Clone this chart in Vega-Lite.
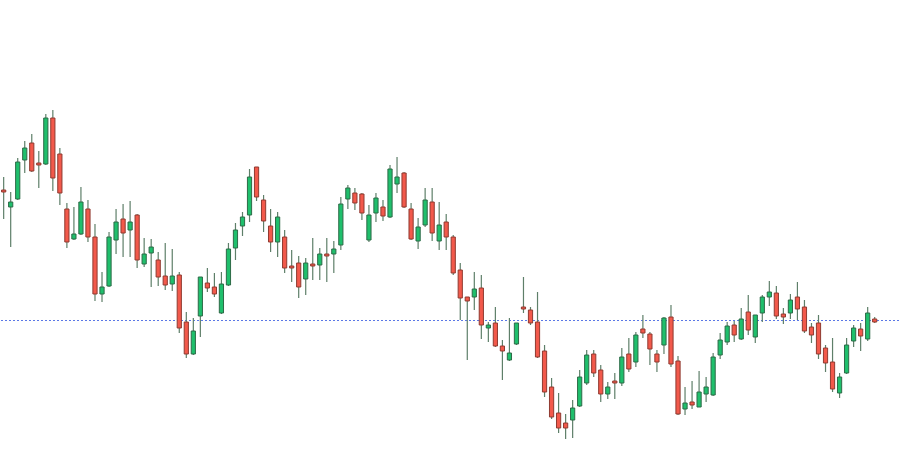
{
  "$schema": "https://vega.github.io/schema/vega-lite/v6.json",
  "width": 900,
  "height": 461,
  "autosize": {"type": "fit", "contains": "padding"},
  "padding": 0,
  "background": "#ffffff",
  "config": {"view": {"stroke": null}},
  "datasets": {"candles": [
    {"i":0,"o":310,"h":323,"l":281,"c":308,"d":"d"},
    {"i":1,"o":293,"h":308,"l":253,"c":298,"d":"u"},
    {"i":2,"o":301,"h":342,"l":300,"c":338,"d":"u"},
    {"i":3,"o":340,"h":359,"l":327,"c":352,"d":"u"},
    {"i":4,"o":357,"h":366,"l":328,"c":329,"d":"d"},
    {"i":5,"o":337,"h":349,"l":312,"c":335,"d":"d"},
    {"i":6,"o":336,"h":386,"l":335,"c":382,"d":"u"},
    {"i":7,"o":382,"h":390,"l":309,"c":322,"d":"d"},
    {"i":8,"o":346,"h":352,"l":295,"c":307,"d":"d"},
    {"i":9,"o":291,"h":297,"l":252,"c":258,"d":"d"},
    {"i":10,"o":261,"h":293,"l":260,"c":266,"d":"u"},
    {"i":11,"o":266,"h":313,"l":265,"c":298,"d":"u"},
    {"i":12,"o":291,"h":300,"l":258,"c":263,"d":"d"},
    {"i":13,"o":263,"h":276,"l":199,"c":206,"d":"d"},
    {"i":14,"o":206,"h":228,"l":198,"c":213,"d":"u"},
    {"i":15,"o":214,"h":268,"l":213,"c":263,"d":"u"},
    {"i":16,"o":260,"h":291,"l":246,"c":278,"d":"u"},
    {"i":17,"o":281,"h":296,"l":243,"c":267,"d":"d"},
    {"i":18,"o":270,"h":299,"l":243,"c":278,"d":"u"},
    {"i":19,"o":285,"h":286,"l":232,"c":240,"d":"d"},
    {"i":20,"o":236,"h":262,"l":233,"c":246,"d":"u"},
    {"i":21,"o":247,"h":261,"l":213,"c":253,"d":"u"},
    {"i":22,"o":240,"h":248,"l":214,"c":223,"d":"d"},
    {"i":23,"o":224,"h":257,"l":210,"c":215,"d":"d"},
    {"i":24,"o":216,"h":251,"l":209,"c":224,"d":"u"},
    {"i":25,"o":225,"h":228,"l":167,"c":172,"d":"d"},
    {"i":26,"o":178,"h":188,"l":142,"c":146,"d":"d"},
    {"i":27,"o":146,"h":182,"l":145,"c":169,"d":"u"},
    {"i":28,"o":184,"h":223,"l":163,"c":223,"d":"u"},
    {"i":29,"o":217,"h":232,"l":208,"c":212,"d":"d"},
    {"i":30,"o":213,"h":227,"l":203,"c":206,"d":"d"},
    {"i":31,"o":187,"h":228,"l":186,"c":216,"d":"u"},
    {"i":32,"o":215,"h":257,"l":214,"c":251,"d":"u"},
    {"i":33,"o":252,"h":277,"l":240,"c":270,"d":"u"},
    {"i":34,"o":274,"h":288,"l":264,"c":283,"d":"u"},
    {"i":35,"o":285,"h":331,"l":278,"c":323,"d":"u"},
    {"i":36,"o":333,"h":333,"l":299,"c":303,"d":"d"},
    {"i":37,"o":300,"h":305,"l":268,"c":279,"d":"d"},
    {"i":38,"o":274,"h":291,"l":248,"c":258,"d":"d"},
    {"i":39,"o":258,"h":288,"l":243,"c":283,"d":"u"},
    {"i":40,"o":263,"h":270,"l":227,"c":232,"d":"d"},
    {"i":41,"o":234,"h":250,"l":218,"c":232,"d":"d"},
    {"i":42,"o":237,"h":244,"l":202,"c":213,"d":"d"},
    {"i":43,"o":221,"h":242,"l":205,"c":237,"d":"u"},
    {"i":44,"o":236,"h":262,"l":220,"c":234,"d":"d"},
    {"i":45,"o":235,"h":252,"l":220,"c":246,"d":"u"},
    {"i":46,"o":246,"h":262,"l":218,"c":244,"d":"d"},
    {"i":47,"o":246,"h":259,"l":227,"c":251,"d":"u"},
    {"i":48,"o":255,"h":303,"l":250,"c":296,"d":"u"},
    {"i":49,"o":301,"h":315,"l":291,"c":312,"d":"u"},
    {"i":50,"o":307,"h":312,"l":290,"c":297,"d":"d"},
    {"i":51,"o":306,"h":307,"l":280,"c":287,"d":"d"},
    {"i":52,"o":260,"h":295,"l":258,"c":285,"d":"u"},
    {"i":53,"o":287,"h":307,"l":278,"c":302,"d":"u"},
    {"i":54,"o":293,"h":300,"l":279,"c":284,"d":"d"},
    {"i":55,"o":283,"h":335,"l":282,"c":331,"d":"u"},
    {"i":56,"o":316,"h":343,"l":307,"c":323,"d":"u"},
    {"i":57,"o":327,"h":328,"l":292,"c":293,"d":"d"},
    {"i":58,"o":291,"h":297,"l":260,"c":261,"d":"d"},
    {"i":59,"o":259,"h":282,"l":251,"c":273,"d":"u"},
    {"i":60,"o":275,"h":312,"l":273,"c":300,"d":"u"},
    {"i":61,"o":298,"h":312,"l":259,"c":267,"d":"d"},
    {"i":62,"o":259,"h":298,"l":250,"c":275,"d":"u"},
    {"i":63,"o":278,"h":286,"l":250,"c":263,"d":"d"},
    {"i":64,"o":263,"h":265,"l":225,"c":227,"d":"d"},
    {"i":65,"o":230,"h":237,"l":180,"c":202,"d":"d"},
    {"i":66,"o":203,"h":203,"l":140,"c":199,"d":"d"},
    {"i":67,"o":203,"h":228,"l":190,"c":211,"d":"u"},
    {"i":68,"o":212,"h":225,"l":161,"c":175,"d":"d"},
    {"i":69,"o":172,"h":178,"l":158,"c":175,"d":"u"},
    {"i":70,"o":177,"h":193,"l":153,"c":154,"d":"d"},
    {"i":71,"o":154,"h":160,"l":120,"c":149,"d":"d"},
    {"i":72,"o":140,"h":182,"l":139,"c":147,"d":"u"},
    {"i":73,"o":156,"h":177,"l":155,"c":177,"d":"u"},
    {"i":74,"o":193,"h":223,"l":187,"c":191,"d":"d"},
    {"i":75,"o":190,"h":193,"l":175,"c":177,"d":"d"},
    {"i":76,"o":178,"h":208,"l":142,"c":143,"d":"d"},
    {"i":77,"o":149,"h":155,"l":103,"c":108,"d":"d"},
    {"i":78,"o":113,"h":122,"l":81,"c":83,"d":"d"},
    {"i":79,"o":87,"h":107,"l":67,"c":72,"d":"d"},
    {"i":80,"o":77,"h":86,"l":61,"c":72,"d":"d"},
    {"i":81,"o":80,"h":100,"l":62,"c":92,"d":"u"},
    {"i":82,"o":94,"h":130,"l":93,"c":123,"d":"u"},
    {"i":83,"o":117,"h":150,"l":115,"c":145,"d":"u"},
    {"i":84,"o":146,"h":150,"l":123,"c":127,"d":"d"},
    {"i":85,"o":130,"h":135,"l":98,"c":106,"d":"d"},
    {"i":86,"o":106,"h":118,"l":101,"c":113,"d":"u"},
    {"i":87,"o":119,"h":127,"l":101,"c":117,"d":"d"},
    {"i":88,"o":117,"h":152,"l":114,"c":143,"d":"u"},
    {"i":89,"o":146,"h":162,"l":128,"c":131,"d":"d"},
    {"i":90,"o":138,"h":168,"l":133,"c":165,"d":"u"},
    {"i":91,"o":171,"h":185,"l":162,"c":167,"d":"d"},
    {"i":92,"o":166,"h":168,"l":135,"c":151,"d":"d"},
    {"i":93,"o":146,"h":150,"l":128,"c":138,"d":"d"},
    {"i":94,"o":155,"h":183,"l":146,"c":182,"d":"u"},
    {"i":95,"o":183,"h":195,"l":133,"c":136,"d":"d"},
    {"i":96,"o":139,"h":144,"l":85,"c":86,"d":"d"},
    {"i":97,"o":91,"h":113,"l":85,"c":97,"d":"u"},
    {"i":98,"o":98,"h":119,"l":91,"c":95,"d":"d"},
    {"i":99,"o":93,"h":129,"l":93,"c":108,"d":"u"},
    {"i":100,"o":106,"h":123,"l":98,"c":113,"d":"u"},
    {"i":101,"o":105,"h":147,"l":104,"c":143,"d":"u"},
    {"i":102,"o":145,"h":167,"l":141,"c":160,"d":"u"},
    {"i":103,"o":158,"h":178,"l":155,"c":174,"d":"u"},
    {"i":104,"o":175,"h":179,"l":158,"c":165,"d":"d"},
    {"i":105,"o":161,"h":192,"l":160,"c":181,"d":"u"},
    {"i":106,"o":188,"h":205,"l":165,"c":170,"d":"d"},
    {"i":107,"o":163,"h":185,"l":157,"c":185,"d":"u"},
    {"i":108,"o":187,"h":205,"l":178,"c":203,"d":"u"},
    {"i":109,"o":203,"h":219,"l":194,"c":208,"d":"u"},
    {"i":110,"o":207,"h":214,"l":181,"c":184,"d":"d"},
    {"i":111,"o":186,"h":192,"l":176,"c":183,"d":"d"},
    {"i":112,"o":187,"h":206,"l":181,"c":200,"d":"u"},
    {"i":113,"o":203,"h":218,"l":180,"c":191,"d":"d"},
    {"i":114,"o":193,"h":200,"l":167,"c":169,"d":"d"},
    {"i":115,"o":173,"h":177,"l":157,"c":165,"d":"d"},
    {"i":116,"o":177,"h":185,"l":141,"c":146,"d":"d"},
    {"i":117,"o":152,"h":155,"l":128,"c":137,"d":"d"},
    {"i":118,"o":138,"h":162,"l":108,"c":111,"d":"d"},
    {"i":119,"o":107,"h":127,"l":102,"c":123,"d":"u"},
    {"i":120,"o":127,"h":162,"l":126,"c":155,"d":"u"},
    {"i":121,"o":159,"h":175,"l":153,"c":172,"d":"u"},
    {"i":122,"o":171,"h":177,"l":149,"c":164,"d":"d"},
    {"i":123,"o":161,"h":193,"l":159,"c":187,"d":"u"},
    {"i":124,"o":181,"h":183,"l":177,"c":178,"d":"d"}
  ],
  "level": [{"price": 179.5}]},
  "layer": [
    {
      "data": {"name": "level"},
      "mark": {"type": "rule", "strokeDash": [2, 2], "strokeWidth": 1, "color": "#5b78e6"},
      "encoding": {"y": {"field": "price", "type": "quantitative", "scale": {"domain": [39, 500], "nice": false, "zero": false}, "axis": null}}
    },
    {
      "data": {"name": "candles"},
      "mark": {"type": "rule", "strokeWidth": 1.2, "color": "#5e7f69"},
      "encoding": {
        "x": {"field": "i", "type": "quantitative", "scale": {"domain": [-0.38, 127.46], "nice": false, "zero": false, "padding": 0}, "axis": null},
        "y": {"field": "l", "type": "quantitative", "axis": null},
        "y2": {"field": "h"}
      }
    },
    {
      "data": {"name": "candles"},
      "mark": {"type": "bar", "size": 4.2, "strokeWidth": 1},
      "encoding": {
        "x": {"field": "i", "type": "quantitative", "axis": null},
        "y": {"field": "o", "type": "quantitative", "axis": null},
        "y2": {"field": "c"},
        "fill": {"field": "d", "type": "nominal", "scale": {"domain": ["u", "d"], "range": ["#1fbf6c", "#f2594b"]}, "legend": null},
        "stroke": {"field": "d", "type": "nominal", "scale": {"domain": ["u", "d"], "range": ["#2d6a47", "#8f3a30"]}, "legend": null}
      }
    }
  ]
}
